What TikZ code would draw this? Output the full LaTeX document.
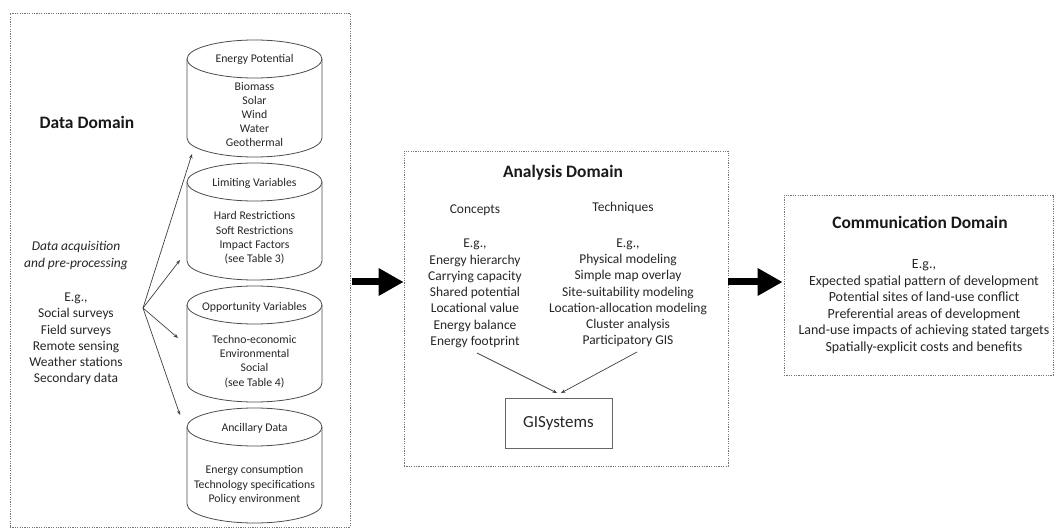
\documentclass[tikz,border=0pt]{standalone}
\usepackage{fontspec}
\setmainfont{Carlito}
\usetikzlibrary{arrows.meta,calc}
\begin{document}
\begin{tikzpicture}[x=1bp,y=-1bp,
  domainbox/.style={draw=black!55, line width=0.7bp, dash pattern=on 1.2bp off 1.2bp, inner sep=0pt},
  cyl/.style={draw=black!70, line width=0.8bp, fill=white},
  body/.style={align=center, text=black!85, font=\fontsize{11.8}{14.3}\selectfont, inner sep=0pt},
  bodybig/.style={align=center, text=black!85, font=\fontsize{13.5}{16.3}\selectfont, inner sep=0pt},
  bodycomm/.style={align=center, text=black!85, font=\fontsize{14}{16.6}\selectfont, inner sep=0pt},
  title/.style={font=\bfseries\fontsize{17.5}{20}\selectfont, text=black!90, inner sep=0pt},
  fanarrow/.style={draw=black!75, line width=0.7bp, -{Stealth[length=4.5bp,width=3.5bp]}},
  bigarrow/.style={draw=black, line width=7bp, -{Triangle[length=25bp,width=26bp]}},
  gisbox/.style={draw=black!60, line width=1bp, minimum width=107bp, minimum height=50bp, inner sep=0pt, font=\fontsize{17}{19}\selectfont, text=black!85}
]
\useasboundingbox (0,0) rectangle (1058,529);
\fill[white] (0,0) rectangle (1058,529);

% Domain boxes
\node[domainbox, minimum width=340bp, minimum height=514bp] (data) at (180,270) {};
\node[domainbox, minimum width=324bp, minimum height=315bp] (analysis) at (566,308.5) {};
\node[domainbox, minimum width=269bp, minimum height=180bp] (comm) at (918.5,285) {};

% Cylinders: center x 254.5, rx 67.5, ry 19
\foreach \t/\b in {59/138, 182/261, 305/383, 427/504}{
  \draw[cyl] (187,\t) -- (187,\b) arc[start angle=180, end angle=360, x radius=67.5, y radius=-19] -- (322,\t);
  \draw[cyl] (254.5,\t) ellipse[x radius=67.5, y radius=19];
}

% Cylinder texts
\node[body] (c1t) at (254.5,59) {Energy Potential};
\node[body] (c1b) at (254.5,114.5) {Biomass\\Solar\\Wind\\Water\\Geothermal};
\node[body] (c2t) at (254.5,183) {Limiting Variables};
\node[body] (c2b) at (254.5,238) {Hard Restrictions\\Soft Restrictions\\Impact Factors\\(see Table 3)};
\node[body] (c3t) at (254.5,307) {Opportunity Variables};
\node[body] (c3b) at (254.5,361.5) {Techno-economic\\Environmental\\Social\\(see Table 4)};
\node[body] (c4t) at (254.5,428) {Ancillary Data};
\node[body] (c4b) at (254.5,485) {Energy consumption\\Technology specifications\\Policy environment};

% Left texts
\node[title] (dtitle) at (87,122) {Data Domain};
\node[bodybig, font=\itshape\fontsize{13.5}{16.8}\selectfont] (acq) at (76,255.5) {Data acquisition\\and pre-processing};
\node[bodybig] (eg1) at (76,339) {E.g.,\\Social surveys\\Field surveys\\Remote sensing\\Weather stations\\Secondary data};

% Fan arrows
\coordinate (fan) at (143,308);
\coordinate (t1) at (192,154);
\coordinate (t2) at (180,260);
\coordinate (t3) at (178,338);
\coordinate (t4) at (180,415);
\foreach \k in {t1,t2,t3,t4}{ \draw[fanarrow] (fan) -- (\k); }

% Analysis domain
\node[title] (atitle) at (563,173) {Analysis Domain};
\node[bodybig] (conc) at (475,210) {Concepts};
\node[bodybig] (tech) at (623,208) {Techniques};
\node[bodybig] (conclist) at (475,293.5) {E.g.,\\Energy hierarchy\\Carrying capacity\\Shared potential\\Locational value\\Energy balance\\Energy footprint};
\node[bodybig] (techlist) at (628,293) {E.g.,\\Physical modeling\\Simple map overlay\\Site-suitability modeling\\Location-allocation modeling\\Cluster analysis\\Participatory GIS};
\node[gisbox] (gis) at (558.5,423) {GISystems};
\coordinate (cl) at (477,353);
\coordinate (tl) at (637,352);
\coordinate (g1) at (557,393);
\coordinate (g2) at (561,393);
\draw[fanarrow] (cl) -- (g1);
\draw[fanarrow] (tl) -- (g2);

% Communication domain
\node[title] (ctitle) at (920,222) {Communication Domain};
\node[bodycomm] (commlist) at (924,306.5) {E.g.,\\Expected spatial pattern of development\\Potential sites of land-use conflict\\Preferential areas of development\\Land-use impacts of achieving stated targets\\Spatially-explicit costs and benefits};

% Big arrows
\draw[bigarrow] ($(data.east |- comm.west)+(2,-3)$) -- ($(analysis.west |- comm.west)+(0,-3)$);
\draw[bigarrow] ($(analysis.east |- comm.west)+(0,-3)$) -- ($(comm.west)+(-1,-3)$);
\end{tikzpicture}
\end{document}
